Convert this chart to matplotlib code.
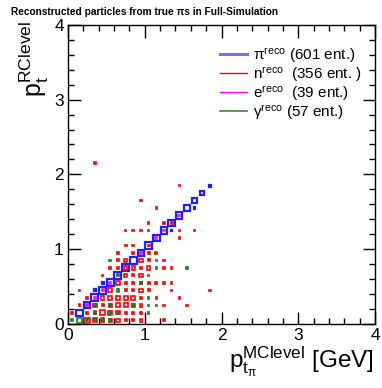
import matplotlib
matplotlib.use("Agg")
import matplotlib.pyplot as plt
from matplotlib.patches import Rectangle
from matplotlib.lines import Line2D
from matplotlib.ticker import MultipleLocator

plt.rcParams['font.family'] = ['Liberation Sans', 'DejaVu Sans']
plt.rcParams['mathtext.fontset'] = 'custom'
plt.rcParams['mathtext.rm'] = 'Liberation Sans'
plt.rcParams['mathtext.it'] = 'Liberation Sans:italic'

# ---- data: bin centres (GeV) and bin contents ----
BIN = 0.1
BOX_FULL = 48.0  # content that would fill a whole bin

pi_x = [0.15, 0.25, 0.35, 0.45, 0.55, 0.65, 0.75, 0.85, 0.95, 1.05, 1.15, 1.25, 1.35, 1.45, 1.55, 1.65, 1.75, 1.85,
        0.35, 0.45, 1.35, 1.65]
pi_y = [0.15, 0.25, 0.35, 0.45, 0.55, 0.65, 0.75, 0.85, 0.95, 1.05, 1.15, 1.25, 1.35, 1.45, 1.55, 1.65, 1.75, 1.85,
        0.45, 0.55, 1.25, 1.55]
pi_n = [30, 35, 38, 40, 40, 38, 40, 40, 38, 38, 36, 36, 34, 32, 28, 24, 14, 4,
        3, 3, 2, 2]

n_x = [0.25, 0.35, 0.45, 0.55, 0.65, 0.75, 0.85, 0.95, 1.25,
       0.05, 0.25, 0.35, 0.45, 0.55, 0.65, 0.75, 0.85, 0.95,
       0.15, 0.35, 0.45, 0.55, 0.65, 0.75, 0.85, 0.95, 1.25, 1.55,
       0.25, 0.45, 0.55, 0.65, 0.75, 0.85, 0.95, 1.15, 1.45,
       0.15, 0.55, 0.75, 0.85, 0.95, 1.05, 1.35, 1.85,
       0.65, 0.75, 0.85, 0.95, 1.05, 1.15, 1.25, 1.35,
       0.45, 0.75, 0.85, 0.95,
       0.55, 0.65, 0.75, 0.85, 0.95, 1.05, 1.25, 1.35,
       0.65, 0.75, 0.95, 1.05, 1.25,
       0.65, 0.85, 1.05, 1.15,
       0.75, 0.85, 1.05,
       1.45,
       0.75, 0.85, 0.95, 1.05, 1.45, 1.65,
       1.05, 1.25, 1.35,
       1.15, 0.95, 1.45, 0.35]
n_y = [0.05] * 9 + [0.15] * 9 + [0.25] * 10 + [0.35] * 9 + [0.45] * 8 + [0.55] * 8 + [0.65] * 4 + \
      [0.75] * 8 + [0.85] * 5 + [0.95] * 4 + [1.05] * 3 + [1.15] + [1.25] * 6 + [1.35] * 3 + \
      [1.55, 1.65, 1.85, 2.15]
n_n = [25, 16, 12, 9, 9, 3, 3, 6, 2,
       3, 3, 6, 20, 12, 9, 3, 3, 3,
       3, 9, 3, 9, 14, 14, 9, 6, 2, 2,
       3, 12, 12, 12, 14, 16, 3, 2, 2,
       2, 12, 3, 3, 9, 3, 2, 2,
       12, 3, 3, 3, 3, 3, 2, 2,
       2, 9, 3, 9,
       2, 3, 9, 9, 3, 9, 2, 2,
       3, 9, 9, 3, 2,
       3, 3, 3, 3,
       3, 3, 3,
       2,
       2, 2, 2, 2, 2, 2,
       2, 2, 3,
       2, 2, 2, 2]

e_x = [0.25, 0.35, 0.45, 0.55, 0.95, 1.15, 1.25, 1.45]
e_y = [0.25, 0.35, 0.45, 0.55, 0.95, 1.15, 1.25, 1.45]
e_n = [3, 3, 3, 3, 3, 3, 3, 3]

g_x = [0.05, 0.15, 0.25, 0.35, 0.45, 0.55, 0.35, 0.55, 0.65, 1.05, 0.35, 0.55, 0.85, 1.05, 1.15,
       1.05, 0.65, 0.95, 1.05, 1.15, 1.55, 0.55, 1.15, 0.65]
g_y = [0.05, 0.05, 0.05, 0.05, 0.05, 0.05, 0.15, 0.15, 0.15, 0.15, 0.25, 0.25, 0.25, 0.25, 0.25,
       0.35, 0.45, 0.55, 0.65, 0.75, 0.75, 0.85, 0.85, 0.65]
g_n = [3, 20, 3, 3, 3, 2, 3, 3, 2, 2, 3, 3, 3, 2, 2,
       2, 6, 3, 2, 2, 2, 2, 2, 3]

labels = [r"$\mathregular{\pi^{reco}}$ (601 ent.)",
          r"$\mathregular{n^{reco}}$  (356 ent. )",
          r"$\mathregular{e^{reco}}$  (39 ent.)",
          r"$\mathregular{\gamma^{reco}}$ (57 ent.)"]

fig = plt.figure(figsize=(3.82, 3.88), dpi=100)
ax = fig.add_axes([0.178, 0.165, 0.804, 0.771])
ax.set_xlim(0, 4)
ax.set_ylim(0, 4)


def draw_boxes(xs, ys, ns, color, lw):
    for x, y, n in zip(xs, ys, ns):
        s = BIN * (n / BOX_FULL) ** 0.5
        ax.add_patch(Rectangle((x - s / 2, y - s / 2), s, s, facecolor='none',
                               edgecolor=color, linewidth=lw, zorder=3))


draw_boxes(pi_x, pi_y, pi_n, '#2020ff', 1.6)
draw_boxes(n_x, n_y, n_n, '#ff0000', 1.2)
draw_boxes(e_x, e_y, e_n, '#ff00ff', 1.2)
draw_boxes(g_x, g_y, g_n, '#1a7a1a', 1.2)

handles = [Line2D([], [], color='#7070ff', lw=2.2),
           Line2D([], [], color='#ff0000', lw=1.0),
           Line2D([], [], color='#ff00ff', lw=1.0),
           Line2D([], [], color='#3a8a3a', lw=1.2)]
ax.legend(handles, labels, loc='upper left', bbox_to_anchor=(0.47, 0.955), frameon=False,
          fontsize=11, handlelength=1.75, handletextpad=0.4, labelspacing=0.0, borderpad=0)

ax.xaxis.set_major_locator(MultipleLocator(1))
ax.xaxis.set_minor_locator(MultipleLocator(0.2))
ax.yaxis.set_major_locator(MultipleLocator(1))
ax.yaxis.set_minor_locator(MultipleLocator(0.2))
ax.tick_params(which='both', direction='in', top=True, right=True, width=1)
ax.tick_params(which='major', length=9, labelsize=12.5, pad=3)
ax.tick_params(which='minor', length=4.5)
for sp in ax.spines.values():
    sp.set_linewidth(1)

fig.text(0.03, 0.968, "Reconstructed particles from true \u03c0s in Full-Simulation",
         fontsize=7.3, fontweight='bold', ha='left', va='center')
fig.text(0.045, 0.945, r"$\mathregular{p_t^{RClevel}}$", fontsize=18, rotation=90,
         ha='left', va='top')
fig.text(0.978, 0.022, r"$\mathregular{p_{t_{\pi}}^{MClevel}}$ [GeV]", fontsize=17.5,
         ha='right', va='bottom')

fig.savefig("out.png", dpi=100)
